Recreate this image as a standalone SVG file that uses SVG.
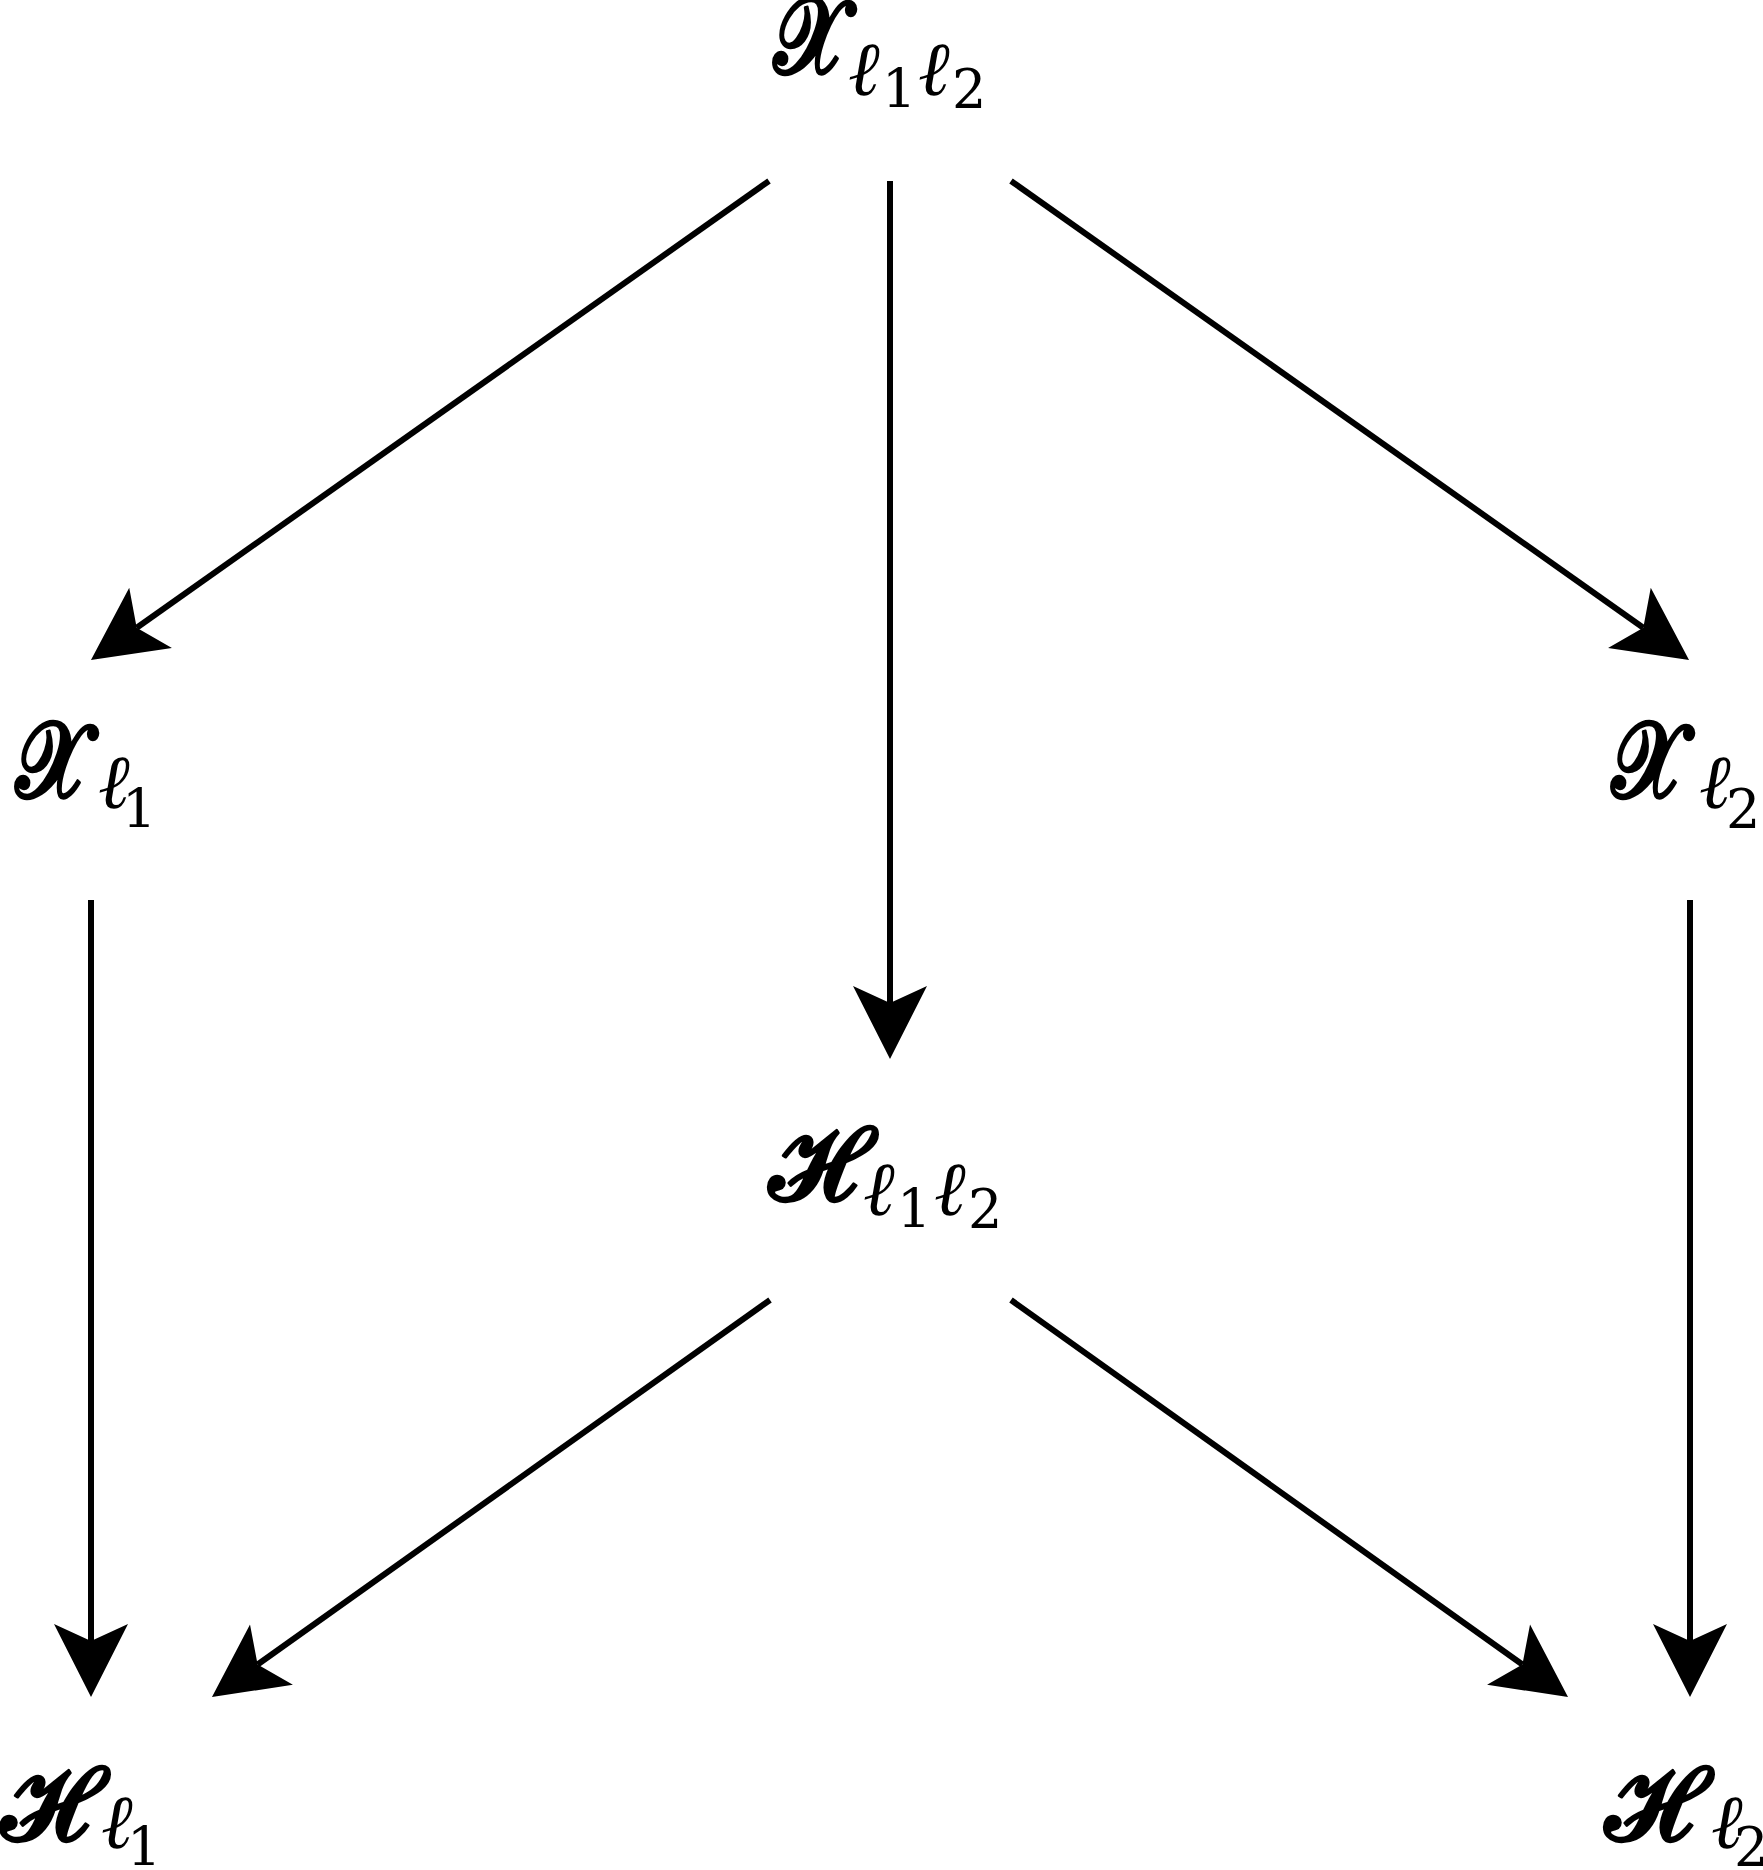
<svg xmlns="http://www.w3.org/2000/svg" width="1763" height="1870" viewBox="0 0 1763 1870">
<style>
.bg{fill:#ffffff}
.edge{stroke:#000;stroke-width:6;fill:none}
.big{font-family:"DejaVu Serif","DejaVu Sans","Noto Sans",serif;font-size:108px;fill:#000;stroke:#000;stroke-width:2.5;stroke-linejoin:round}
.ell{font-family:"DejaVu Serif","Liberation Serif",serif;font-size:76px;font-style:italic;fill:#000}
.dig{font-family:"DejaVu Serif","Liberation Serif",serif;font-size:54px;fill:#000}
</style>
<defs>
<marker id="ah" markerUnits="userSpaceOnUse" viewBox="-20 -40 80 80" markerWidth="80" markerHeight="80" refX="0" refY="0" orient="auto" overflow="visible">
<path d="M56,0 L-17,-37 L0,0 L-17,37 Z" fill="#000"/>
</marker>
</defs>
<rect class="bg" x="0" y="0" width="1763" height="1870"/>
<g id="connectors">
<line class="edge" x1="769" y1="181" x2="136.7" y2="627.7" marker-end="url(#ah)"/>
<line class="edge" x1="890" y1="181" x2="890" y2="1003" marker-end="url(#ah)"/>
<line class="edge" x1="1011" y1="181" x2="1643.3" y2="627.7" marker-end="url(#ah)"/>
<line class="edge" x1="91" y1="900" x2="91" y2="1641" marker-end="url(#ah)"/>
<line class="edge" x1="1690" y1="900" x2="1690" y2="1641" marker-end="url(#ah)"/>
<line class="edge" x1="770" y1="1300" x2="257.6" y2="1664.5" marker-end="url(#ah)"/>
<line class="edge" x1="1011" y1="1300" x2="1522.4" y2="1664.5" marker-end="url(#ah)"/>
</g>
<g id="node-X12">
<text class="big" transform="translate(773,73) scale(0.78,1)">𝓧</text>
<text class="ell" x="848" y="95">ℓ</text>
<text class="dig" x="882" y="108">1</text>
<text class="ell" x="918" y="95">ℓ</text>
<text class="dig" x="952" y="108">2</text>
</g>
<g id="node-X1">
<text class="big" transform="translate(15,797) scale(0.78,1)">𝓧</text>
<text class="ell" x="98" y="808">ℓ</text>
<text class="dig" x="122" y="828">1</text>
</g>
<g id="node-X2">
<text class="big" transform="translate(1611,797) scale(0.78,1)">𝓧</text>
<text class="ell" x="1699" y="808">ℓ</text>
<text class="dig" x="1726" y="828">2</text>
</g>
<g id="node-H12">
<text class="big" transform="translate(768,1200) scale(0.91,0.97)">𝓗</text>
<text class="ell" x="863" y="1215">ℓ</text>
<text class="dig" x="897" y="1228">1</text>
<text class="ell" x="934" y="1215">ℓ</text>
<text class="dig" x="968" y="1228">2</text>
</g>
<g id="node-H1">
<text class="big" transform="translate(0,1840) scale(0.91,0.97)">𝓗</text>
<text class="ell" x="101" y="1848">ℓ</text>
<text class="dig" x="127" y="1866">1</text>
</g>
<g id="node-H2">
<text class="big" transform="translate(1604,1840) scale(0.91,0.97)">𝓗</text>
<text class="ell" x="1711" y="1848">ℓ</text>
<text class="dig" x="1734" y="1866">2</text>
</g>
</svg>
